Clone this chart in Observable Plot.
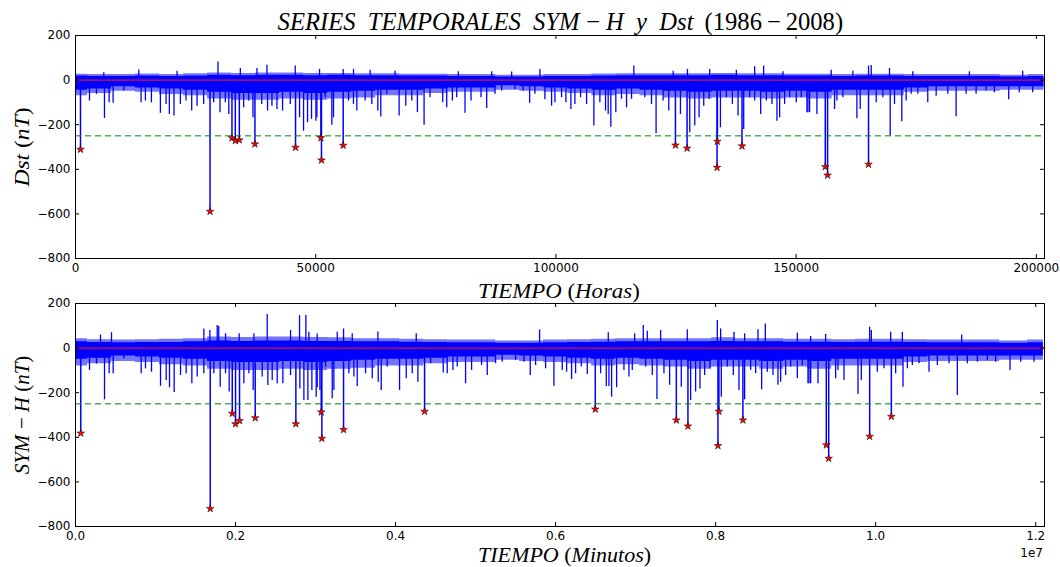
<!DOCTYPE html>
<html><head><meta charset="utf-8">
<script src="https://cdn.jsdelivr.net/npm/d3@7"></script>
<script src="https://cdn.jsdelivr.net/npm/@observablehq/plot@0.6"></script>
<style>
body{margin:0;background:#fff;}
#root{position:relative;width:1060px;height:567px;overflow:hidden;background:#fff;}
.pl{position:absolute;left:0;}
.lbl{position:absolute;font-family:"Liberation Serif",serif;white-space:nowrap;color:#000;line-height:1;}
.lbl i{font-style:italic;}
.off{position:absolute;font-family:"DejaVu Sans",sans-serif;font-size:12px;color:#000;}
</style></head><body>
<div id="root">
  <div id="p1" class="pl" style="top:0"></div>
  <div id="p2" class="pl" style="top:280px"></div>
  <div class="lbl" id="title" data-cx="560" data-cy="21" data-w="566" style="font-size:25px"><i>SERIES&ensp;TEMPORALES&ensp;SYM&#8201;−&#8201;H&ensp;y&ensp;Dst</i>&#8201; (1986&#8201;−&#8201;2008)</div>
  <div class="lbl" id="xl1" data-cx="559" data-cy="291" data-w="162" style="font-size:22px"><i>TIEMPO</i> (<i>Horas</i>)</div>
  <div class="lbl" id="xl2" data-cx="564" data-cy="555" data-w="173" style="font-size:21px"><i>TIEMPO</i> (<i>Minutos</i>)</div>
  <div class="lbl" id="yl1" data-cx="22" data-cy="147" data-w="79" data-rot="1" style="font-size:22px"><i>Dst</i> (<i>nT</i>)</div>
  <div class="lbl" id="yl2" data-cx="22" data-cy="415" data-w="119" data-rot="1" style="font-size:22px"><i>SYM&#8201;−&#8201;H</i> (<i>nT</i>)</div>
  <div class="off" style="right:17px;top:546px">1e7</div>
</div>
<script>
// ---------------- Dst (hours) ----------------
const dstBandTime = [0,5000,10000,15000,20000,25000,30000,35000,40000,45000,50000,55000,60000,65000,70000,75000,80000,85000,90000,95000,100000,105000,110000,115000,120000,125000,130000,135000,140000,145000,150000,155000,160000,165000,170000,175000,180000,185000,190000,195000,201600];
const dstBandLow  = [-45,-40,-30,-35,-40,-45,-55,-60,-60,-55,-60,-55,-50,-45,-45,-40,-35,-35,-25,-30,-35,-40,-45,-40,-45,-50,-55,-50,-50,-55,-50,-55,-45,-45,-45,-35,-30,-30,-30,-30,-30];
const dstBandHigh = [18,16,16,18,16,18,22,20,22,22,20,22,20,20,18,18,16,16,14,14,16,16,18,20,20,20,20,22,20,20,18,18,16,18,18,16,16,16,16,14,16];
const dstFringeLow  = [-70,-60,-50,-55,-65,-70,-85,-90,-90,-85,-90,-85,-80,-70,-70,-60,-55,-55,-45,-50,-55,-60,-70,-65,-70,-80,-85,-80,-80,-85,-80,-85,-70,-70,-70,-55,-50,-50,-50,-45,-45];
const dstFringeHigh = [26,25,25,27,25,28,32,30,32,32,30,30,28,28,26,26,25,25,22,22,25,25,27,28,28,28,28,30,28,28,26,26,25,26,26,25,25,25,25,22,25];

const dstSpikeTime = [2911,4366,6029,7000,7830,10050,13650,14550,15800,17670,18850,19540,20500,21830,23000,24190,25300,26680,28760,30080,31190,31910,35000,36030,36940,38770,39980,40890,41930,43100,44700,46640,47470,48300,49130,50040,
 50250,51975,53360,53700,56830,57860,58560,60290,61680,62930,63550,64800,67360,68750,70000,71170,72560,73800,76440,77270,78450,79350,81080,82330,84410,85590,87320,88700,91480,93200,94530,95630,97710,99100,99790,101180,
 102080,103120,103950,105130,106380,107900,109150,110330,110880,111430,112470,113650,114700,115740,118500,119900,120850,122310,123490,125920,127860,128900,129800,130770,131880,134240,135480,136730,137910,139090,140330,141370,142620,143800,144970,146010,146570,147610,148650,150030,152460,
 151080,152250,152810,154330,158000,158490,159730,162650,163340,166670,168050,169580,170480,172000,172900,173950,175330,177400,179150,181570,183300,185380,187460,189540,191270,194250,196470,199240,
 13170,29660,39850,45740,50800,21140,5890,37770,34310,55720,57870,61330,66530,79690,96670,86630,90790,116220,141370,143240,127380,132020,124400,137560,147260,165070,165630,169440,157310,197160,186070,161820,174290];
const dstSpikeValue = [-94,-64,-172,-102,-104,-49,-102,-94,-102,-149,-109,-154,-161,-109,-94,-139,-117,-109,-102,-146,-102,-154,-124,-94,-169,-109,-139,-117,-132,-139,-109,-169,-229,-191,-176,-184,
 -169,-79,-202,-169,-94,-109,-139,-94,-109,-139,-166,-64,-161,-117,-94,-146,-202,-79,-102,-124,-94,-79,-149,-94,-79,-127,-64,-49,-42,-49,-104,-64,-88,-117,-102,-79,
 -102,-132,-109,-79,-109,-206,-102,-139,-154,-211,-146,-86,-124,-86,-79,-109,-241,-94,-139,-154,-236,-206,-169,-117,-86,-214,-79,-109,-161,-222,-79,-94,-154,-94,-109,-184,-169,-109,-79,-102,-146,
 -79,-146,-146,-154,-132,-94,-79,-173,-132,-102,-79,-251,-109,-187,-94,-64,-64,-102,-72,-64,-164,-64,-64,-49,-57,-88,-57,-57,
 45,81,67,63,48,40,33,52,52,48,48,44,40,37,48,37,36,63,60,63,48,48,40,44,37,63,66,52,44,40,37,40,37];

const dstStormTime  = [1040,28000,32570,33260,34100,37350,45800,51080,51200,55720,124880,127300,133540,133610,138740,156070,156550,165070];
const dstStormValue = [-311,-589,-260,-272,-269,-287,-302,-259,-359,-293,-292,-306,-392,-275,-296,-389,-427,-378];

// ---------------- SYM-H (minutes) ----------------
const symBandTime = [0,300000,600000,900000,1200000,1500000,1800000,2100000,2400000,2700000,3000000,3300000,3600000,3900000,4200000,4500000,4800000,5100000,5400000,5700000,6000000,6300000,6600000,6900000,7200000,7500000,7800000,8100000,8400000,8700000,9000000,9300000,9600000,9900000,10200000,10500000,10800000,11100000,11400000,11700000,12096000];
const symBandLow  = [-50,-45,-35,-40,-45,-50,-60,-65,-65,-60,-65,-60,-55,-50,-50,-45,-40,-40,-32,-35,-40,-45,-50,-45,-50,-55,-60,-55,-55,-60,-55,-60,-50,-50,-50,-40,-35,-35,-35,-35,-35];
const symBandHigh = [28,25,24,25,25,28,32,30,32,32,30,30,28,28,26,25,24,24,22,22,24,25,26,28,28,28,28,30,28,28,26,26,25,26,26,25,24,24,24,22,24];
const symFringeLow  = [-80,-70,-60,-65,-75,-80,-95,-100,-100,-95,-100,-95,-90,-80,-80,-70,-65,-65,-55,-60,-65,-70,-80,-75,-80,-85,-95,-85,-85,-95,-85,-95,-80,-80,-80,-65,-60,-60,-60,-55,-55];
const symFringeHigh = [42,38,36,38,40,42,50,48,50,50,48,46,42,42,40,38,36,36,32,32,36,38,40,42,42,42,42,46,42,42,40,40,38,40,40,38,36,36,36,32,36];

const symSpikeTime = [175000,262500,362500,420800,470800,604000,820800,875000,950000,1062500,1133300,1175000,1233300,1312500,1383300,1454200,1520800,1604200,1729200,1808300,1875000,1920800,2104200,2166700,2220800,2333300,2404200,2458300,2520800,2591700,2687500,2804200,2854200,2904200,2954200,3008300,3054200,
 3020800,3125000,3208300,3229200,3416700,3479200,3520800,3625000,3708300,3783300,3820800,3895800,4050000,4133300,4208300,4279200,4437500,4595800,4645800,4716700,4770800,4875000,4950000,5075000,5145800,5250000,5333300,5500000,5604200,5683300,5750000,5875000,5979200,6083300,
 6137500,6200000,6250000,6320800,6395800,6562500,6633300,6666700,6700000,6762500,6854200,6916700,6958300,7125000,7208300,7266700,7354200,7425000,7570800,7687500,7750000,7804200,7862500,7929200,8070800,8145800,8220800,8291700,8362500,8437500,8500000,8575000,8645800,8716700,8779200,8812500,8875000,8937500,9020800,9166700,
 9083300,9154200,9187500,9279200,9500000,9529200,9604200,9779200,9820800,10020800,10104200,10250000,10341700,10395800,10458300,10541700,10666700,10770800,10916700,11020800,11145800,11270800,11395800,11500000,11679200,11812500,11979200,
 450000,1604200,1679200,1770800,1790000,2395800,2687500,2800000,2879200,1875000,2045800,2229200,312500,2916700,3020800,3270800,3350000,3458300,3779200,4258300,5800000,6658300,6987500,7095800,7145800,7312500,7645800,8020800,8062500,8229200,8362500,8529200,8620800,9020800,9925000,9945800,10187500,10333300,9375000,11075000,9187500];
const symSpikeValue = [-100,-72,-232,-115,-115,-48,-115,-93,-108,-171,-145,-178,-199,-123,-115,-160,-130,-115,-115,-175,-115,-197,-160,-115,-190,-130,-168,-145,-160,-160,-123,-183,-235,-235,-190,-220,-190,
 -178,-85,-227,-190,-115,-130,-172,-115,-138,-153,-190,-85,-190,-138,-115,-153,-70,-112,-115,-100,-85,-160,-100,-78,-123,-70,-63,-56,-63,-123,-78,-93,-171,-100,
 -108,-141,-115,-85,-118,-115,-172,-172,-220,-178,-100,-130,-100,-85,-123,-230,-115,-167,-175,-235,-197,-183,-123,-93,-220,-85,-123,-190,-232,-100,-115,-187,-108,-123,-167,-153,-123,-85,-138,-160,
 -78,-160,-160,-160,-138,-100,-145,-208,-145,-108,-93,-115,-175,-93,-78,-70,-108,-78,-70,-212,-70,-63,-56,-63,-100,-63,-63,
 69,86,79,101,97,151,79,146,146,64,64,64,59,71,63,71,86,64,72,64,82,69,64,101,76,79,82,124,86,71,64,82,108,67,94,79,71,71,61,59,52];

const symStormTime  = [66000,1684000,1959000,2000000,2050000,2246000,2754000,3071000,3079000,3350000,4362500,6496000,7509000,7654000,8029000,8041000,8341000,9383000,9413000,9925000,10196000];
const symStormValue = [-382,-720,-293,-340,-326,-313,-340,-287,-405,-366,-284,-274,-323,-350,-438,-284,-323,-435,-495,-396,-307];

// ---------------- ticks ----------------
const yTicks = [-800,-600,-400,-200,0,200];
const dstTicksX = [0,50000,100000,150000,200000];
const symTicksX = [0,2000000,4000000,6000000,8000000,10000000,12000000];
const symTickLabels = ["0.0","0.2","0.4","0.6","0.8","1.0","1.2"];
const threshold = -250;

const zipBand = (t, lo, hi) => t.map((d, i) => ({t: d, low: lo[i], high: hi[i]}));
const zipPts = (t, v) => t.map((d, i) => ({t: d, v: v[i]}));

function panel({band, fringe, spikes, storms, xDomain, xTicks, xFormat, height, marginTop, marginBottom}) {
  const W = 1060, ML = 75, MR = 16;
  const fH = height - marginTop - marginBottom, fW = W - ML - MR;
  return Plot.plot({
    width: W, height, marginLeft: ML, marginRight: MR, marginTop, marginBottom,
    style: {fontFamily: "DejaVu Sans, sans-serif", fontSize: "12px", background: "transparent", overflow: "visible"},
    x: {domain: xDomain},
    y: {domain: [-800, 200]},
    marks: [
      Plot.areaY(fringe, {x: "t", y1: "low", y2: "high", curve: "step", fill: "#0000ff", fillOpacity: 0.55}),
      Plot.areaY(band, {x: "t", y1: "low", y2: "high", curve: "step", fill: "#0000ff"}),
      Plot.ruleX(spikes, {x: "t", y1: 0, y2: "v", stroke: "#0000ff", strokeWidth: 1.3}),
      Plot.ruleX(storms, {x: "t", y1: 0, y2: "v", stroke: "#0000ff", strokeWidth: 1.5}),
      Plot.ruleY([0], {stroke: "#e0103a", strokeWidth: 1.3}),
      Plot.ruleY([threshold], {stroke: "#008000", strokeWidth: 1, strokeDasharray: "6,4"}),
      Plot.dot(storms, {x: "t", y: "v", symbol: "star", r: 2.4, fill: "#ff0000", stroke: "#000", strokeWidth: 0.5}),
      Plot.frame({stroke: "#000", strokeWidth: 1}),
      Plot.tickX(xTicks, {x: d => d, insetTop: fH - 4, stroke: "#000"}),
      Plot.tickX(xTicks, {x: d => d, insetBottom: fH - 4, stroke: "#000"}),
      Plot.tickY(yTicks, {y: d => d, insetRight: fW - 4, stroke: "#000"}),
      Plot.tickY(yTicks, {y: d => d, insetLeft: fW - 4, stroke: "#000"}),
      Plot.axisX(xTicks, {tickSize: 0, tickPadding: 5, tickFormat: xFormat, label: null}),
      Plot.axisY(yTicks, {tickSize: 0, tickPadding: 5, tickFormat: d => d < 0 ? "−" + Math.abs(d) : String(d), label: null})
    ]
  });
}

document.getElementById("p1").append(panel({
  band: zipBand(dstBandTime, dstBandLow, dstBandHigh),
  fringe: zipBand(dstBandTime, dstFringeLow, dstFringeHigh),
  spikes: zipPts(dstSpikeTime, dstSpikeValue),
  storms: zipPts(dstStormTime, dstStormValue),
  xDomain: [0, 201700], xTicks: dstTicksX, xFormat: d => String(d),
  height: 280, marginTop: 35, marginBottom: 22
}));
document.getElementById("p2").append(panel({
  band: zipBand(symBandTime, symBandLow, symBandHigh),
  fringe: zipBand(symBandTime, symFringeLow, symFringeHigh),
  spikes: zipPts(symSpikeTime, symSpikeValue),
  storms: zipPts(symStormTime, symStormValue),
  xDomain: [0, 12110000], xTicks: symTicksX, xFormat: d => symTickLabels[symTicksX.indexOf(d)],
  height: 287, marginTop: 23, marginBottom: 41
}));

// fit text labels to measured widths
document.querySelectorAll(".lbl").forEach(el => {
  const w = el.offsetWidth, h = el.offsetHeight;
  const s = (+el.dataset.w) / w;
  const cx = +el.dataset.cx, cy = +el.dataset.cy;
  el.style.left = (cx - w / 2) + "px";
  el.style.top = (cy - h / 2) + "px";
  el.style.transformOrigin = "50% 50%";
  el.style.transform = (el.dataset.rot ? "rotate(-90deg) " : "") + "scaleX(" + s.toFixed(3) + ")";
});
</script>
</body></html>
